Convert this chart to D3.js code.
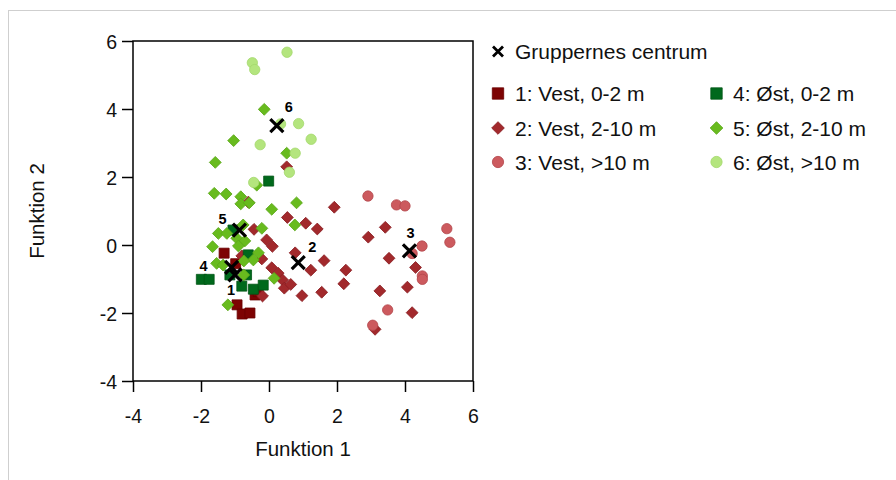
<!DOCTYPE html>
<html>
<head>
<meta charset="utf-8">
<script src="https://cdn.jsdelivr.net/npm/d3@7"></script>
<style>
  html, body { margin: 0; padding: 0; background: #fff; }
  svg { display: block; font-family: "Liberation Sans", Arial, Helvetica, sans-serif; }
</style>
</head>
<body>
<svg id="chart" width="896" height="480"></svg>
<script>
// Discriminant scores (Funktion 1, Funktion 2) per group
const vest02 = [[-1.32,-0.24],[-0.94,-1.76],[-0.79,-2.03],[-0.56,-2.0],[-0.41,-1.47],[-0.32,-1.37],[-0.98,-0.55]];
const vest210 = [[0.52,2.30],[1.92,1.11],[0.54,0.81],[1.08,0.64],[1.42,0.47],[-0.44,0.46],[-0.61,1.26],
  [-0.07,0.15],[0.10,-0.04],[0.77,-0.23],[1.23,-0.74],[1.62,-0.46],[2.26,-0.74],[2.20,-1.14],[0.97,-1.49],
  [1.55,-1.39],[0.08,-0.67],[0.27,-0.83],[0.40,-1.03],[0.45,-1.27],[0.64,-1.16],[-0.80,-0.32],[-0.21,-0.41],
  [-0.19,-1.50],[2.92,0.23],[3.42,0.52],[3.53,-0.39],[4.31,-0.66],[4.07,-1.24],[3.26,-1.35],[4.21,-1.99],[3.12,-2.48]];
const vest10 = [[2.91,1.44],[3.75,1.18],[4.0,1.15],[5.23,0.48],[5.32,0.08],[4.5,-0.03],[4.21,-0.25],
  [4.51,-0.91],[4.51,-1.01],[3.49,-1.91],[3.05,-2.36]];
const oest02 = [[-0.01,1.88],[-1.06,0.44],[-0.61,-0.29],[-1.99,-1.01],[-1.76,-1.01],[-1.15,-0.88],
  [-0.66,-0.88],[-0.80,-1.21],[-0.46,-1.30],[-0.17,-1.18]];
const oest210 = [[-0.14,3.99],[-1.04,3.07],[-1.58,2.43],[0.52,2.70],[-0.36,1.76],[-1.61,1.52],[-1.26,1.50],
  [-0.83,1.42],[-0.83,1.21],[-0.58,1.24],[0.08,1.05],[0.81,1.24],[0.76,0.59],[-1.49,0.34],[-1.24,0.34],
  [-0.76,0.59],[-0.21,0.49],[-0.95,0.20],[-0.71,0.12],[-0.90,-0.03],[-1.66,-0.05],[-0.31,-0.23],
  [-0.46,-0.44],[-0.74,-0.47],[-1.54,-0.54],[-1.35,-0.59],[0.15,-0.98],[-0.74,-0.88],[-1.21,-1.76]];
const oest10 = [[0.53,5.67],[-0.49,5.36],[-0.42,5.16],[0.87,3.57],[0.34,3.56],[1.24,3.11],[-0.26,2.95],
  [0.77,2.70],[0.60,2.14],[-0.45,1.84]];

// Group centroids
const centroidLabels = ["1","2","3","4","5","6"];
const centroids = [[-1.0,-0.88],[0.86,-0.52],[4.13,-0.17],[-1.10,-0.66],[-0.87,0.44],[0.23,3.51]];

const groupNames = ["1: Vest, 0-2 m","2: Vest, 2-10 m","3: Vest, >10 m","4: Øst, 0-2 m","5: Øst, 2-10 m","6: Øst, >10 m"];
const groupData = [vest02, vest210, vest10, oest02, oest210, oest10];
const groupColors = ["#7d0303","#a2292c","#cc5a5e","#00691c","#68bb1e","#b4e57e"];
const groupStroke = ["#6a0000","#8a1e22","#b2454a","#005515","#5aa818","#a3d86c"];
const groupShapes = ["square","diamond","circle","square","diamond","circle"];

const xTicks = [-4,-2,0,2,4,6];
const yTicks = [-4,-2,0,2,4,6];

(function draw() {
  const svg = d3.select("#chart");

  // outer frame
  svg.append("rect").attr("x",8.5).attr("y",10.5).attr("width",900).attr("height",480)
    .attr("fill","none").attr("stroke","#cfcfcf").attr("stroke-width",1);

  const pL = 133, pR = 473, pT = 41, pB = 381;
  const x = d3.scaleLinear().domain([-4,6]).range([pL,pR]);
  const y = d3.scaleLinear().domain([-4,6]).range([pB,pT]);

  const fmt = d => String(d);

  const gx = svg.append("g").attr("transform",`translate(0,${pB})`)
    .call(d3.axisBottom(x).tickValues(xTicks).tickFormat(fmt).tickSize(11).tickPadding(17));
  const gy = svg.append("g").attr("transform",`translate(${pL},0)`)
    .call(d3.axisLeft(y).tickValues(yTicks).tickFormat(fmt).tickSize(11).tickPadding(5));
  [gx,gy].forEach(g => {
    g.select(".domain").remove();
    g.selectAll(".tick line").attr("stroke","#000").attr("stroke-width",1.5);
    g.selectAll(".tick text").attr("fill","#111").style("font-size","19.5px")
      .style("font-family",'"Liberation Sans", Arial, Helvetica, sans-serif');
  });
  gy.selectAll(".tick text").attr("dy","0.36em");

  // plot box
  svg.append("rect").attr("x",pL).attr("y",pT).attr("width",pR-pL).attr("height",pB-pT)
    .attr("fill","none").attr("stroke","#000").attr("stroke-width",1.5);

  // axis titles
  svg.append("text").attr("x",(pL+pR)/2).attr("y",456).attr("text-anchor","middle")
    .style("font-size","20.5px").attr("fill","#111").text("Funktion 1");
  svg.append("text").attr("transform",`translate(44,${(pT+pB)/2}) rotate(-90)`).attr("text-anchor","middle")
    .style("font-size","20.5px").attr("fill","#111").text("Funktion 2");

  const symSquare = d3.symbol().type(d3.symbolSquare).size(100);
  const symDiamond = d3.symbol().type(d3.symbolSquare).size(70);
  const symCircle = d3.symbol().type(d3.symbolCircle).size(84);
  const shapePath = s => s==="square"?symSquare():s==="diamond"?symDiamond():symCircle();
  const shapeRot = s => s==="diamond"?" rotate(45)":"";

  const plot = svg.append("g");
  groupData.forEach((pts,i) => {
    plot.append("g").selectAll("path").data(pts).join("path")
      .attr("d", shapePath(groupShapes[i]))
      .attr("transform", d => `translate(${x(d[0])},${y(d[1])})${shapeRot(groupShapes[i])}`)
      .attr("fill", groupColors[i]).attr("stroke", groupStroke[i]).attr("stroke-width",0.8);
  });

  // centroid crosses
  const cross = (cx,cy,h) => `M${cx-h},${cy-h}L${cx+h},${cy+h}M${cx-h},${cy+h}L${cx+h},${cy-h}`;
  const cg = svg.append("g");
  cg.selectAll("path").data(centroids).join("path")
    .attr("d", d => cross(x(d[0]),y(d[1]),6.5))
    .attr("stroke","#000").attr("stroke-width",3.2).attr("fill","none");
  const labelOffsets = [[-4,15],[14,-16],[1,-18],[-28,-2],[-17,-11],[12,-19]];
  cg.selectAll("text").data(centroids).join("text")
    .attr("x",(d,i)=>x(d[0])+labelOffsets[i][0]).attr("y",(d,i)=>y(d[1])+labelOffsets[i][1])
    .attr("text-anchor","middle").attr("dy","0.36em")
    .style("font-size","14.5px").style("font-weight","bold").attr("fill","#000")
    .text((d,i)=>centroidLabels[i]);

  // legend
  const lg = svg.append("g");
  lg.append("path").attr("d",cross(498,51.5,5)).attr("stroke","#000").attr("stroke-width",2.8);
  lg.append("text").attr("x",515).attr("y",51.5).attr("dy","0.36em").style("font-size","21px")
    .attr("fill","#111").text("Gruppernes centrum");
  const legRows = [93.5,128,162];
  const legCols = [[498,515],[716.5,733]];
  groupNames.forEach((name,i) => {
    const col = legCols[Math.floor(i/3)], ry = legRows[i%3];
    const s = groupShapes[i];
    const size = s==="square"?130:s==="diamond"?80:100;
    lg.append("path")
      .attr("d", d3.symbol().type(s==="circle"?d3.symbolCircle:d3.symbolSquare).size(size)())
      .attr("transform",`translate(${col[0]},${ry})${shapeRot(s)}`)
      .attr("fill",groupColors[i]).attr("stroke",groupStroke[i]).attr("stroke-width",0.8);
    lg.append("text").attr("x",col[1]).attr("y",ry).attr("dy","0.36em").style("font-size","21px")
      .attr("fill","#111").text(name);
  });
})();
</script>
</body>
</html>
